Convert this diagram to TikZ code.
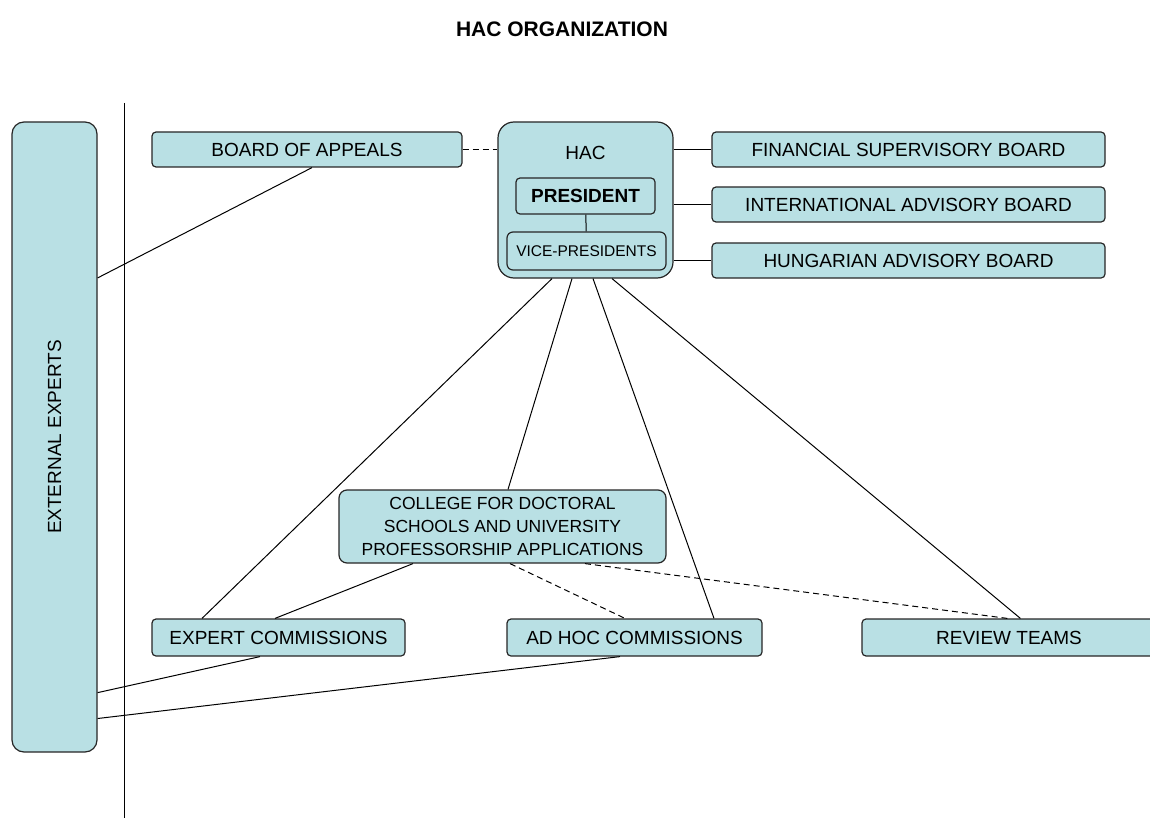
\documentclass[tikz,border=0pt]{standalone}
\usepackage{fontspec}
\setmainfont{Liberation Sans}
\usetikzlibrary{positioning,calc}
\definecolor{hacfill}{RGB}{185,224,228}

\begin{document}
\begin{tikzpicture}[x=1pt,y=-1pt,
  box/.style={draw=black!85,fill=hacfill,line width=1.2pt,rounded corners=4pt,inner sep=0pt,font=\fontsize{19}{22}\selectfont},
  link/.style={line width=1pt},
  dlink/.style={line width=1pt,dash pattern=on 6pt off 4pt}]
\useasboundingbox (0,0) rectangle (1150,818);

\node[font=\fontsize{21}{24}\bfseries\selectfont] (title) at (562,29) {HAC ORGANIZATION};

% left column
\node[box,rounded corners=12pt,minimum width=85,minimum height=630] (ext) at (54.5,437) {};
\node[rotate=90,font=\fontsize{19}{22}\selectfont] (extlabel) at (ext.center) {EXTERNAL EXPERTS};
\coordinate (ltop) at (124,103);
\coordinate (lbot) at (124,818);
\draw[link] (ltop) -- (lbot);

% HAC
\node[box,rounded corners=16pt,minimum width=175,minimum height=156] (hac) at (585.5,200) {};
\node[font=\fontsize{19}{22}\selectfont] (haclabel) at (585.5,153) {HAC};
\node[box,minimum width=139,minimum height=36,font=\fontsize{19}{22}\bfseries\selectfont] (pres) at (585.5,196) {PRESIDENT};
\node[box,rounded corners=6pt,minimum width=159,minimum height=38,font=\fontsize{15.5}{18}\selectfont] (vice) at (586.5,251) {VICE-PRESIDENTS};
\draw[link] (pres) -- (vice);

% boards
\node[box,minimum width=310,minimum height=35] (appeals) at (307,149.5) {BOARD OF APPEALS};
\node[box,minimum width=393,minimum height=35] (fin) at (908.5,149.5) {FINANCIAL SUPERVISORY BOARD};
\node[box,minimum width=393,minimum height=35] (intl) at (908.5,204.5) {INTERNATIONAL ADVISORY BOARD};
\node[box,minimum width=393,minimum height=35] (hung) at (908.5,260.5) {HUNGARIAN ADVISORY BOARD};

% commissions
\node[box,rounded corners=8pt,minimum width=327,minimum height=73,align=center,font=\fontsize{17.5}{23}\selectfont] (college) at (502.5,526.5) {COLLEGE FOR DOCTORAL\\SCHOOLS AND UNIVERSITY\\PROFESSORSHIP APPLICATIONS};
\node[box,minimum width=253,minimum height=37] (expert) at (278.5,637.5) {EXPERT COMMISSIONS};
\node[box,minimum width=255,minimum height=37] (adhoc) at (634.5,637.5) {AD HOC COMMISSIONS};
\node[box,minimum width=300,minimum height=37] (review) at (1012,637.5) {};
\node[font=\fontsize{19}{22}\selectfont] (reviewlabel) at (1009,637.5) {REVIEW TEAMS};

% connectors
\draw[dlink] (appeals.east) -- (hac.west |- appeals.east);
\draw[link] (hac.east |- fin.west) -- (fin.west);
\draw[link] (hac.east |- intl.west) -- (intl.west);
\draw[link] (hac.east |- hung.west) -- (hung.west);
\draw[link] ([xshift=5pt]appeals.south) -- ($(ext.north east)!0.248!(ext.south east)$);

\draw[link] ([xshift=-33.5pt]hac.south) -- ([xshift=-76.5pt]expert.north);
\draw[link] ([xshift=-13.5pt]hac.south) -- ([xshift=5.5pt]college.north);
\draw[link] ([xshift=7.5pt]hac.south) -- ([xshift=79.5pt]adhoc.north);
\draw[link] ([xshift=26.5pt]hac.south) -- ([xshift=159pt]review.north west);

\draw[link] ([xshift=-89.5pt]college.south) -- ([xshift=-3.5pt]expert.north);
\draw[dlink] ([xshift=7.5pt]college.south) -- ([xshift=-9.5pt]adhoc.north);
\draw[dlink] ([xshift=82.5pt]college.south) -- ([xshift=146pt]review.north west);

\draw[link] ([xshift=-18.5pt]expert.south) -- ($(ext.north east)!0.905!(ext.south east)$);
\draw[link] ([xshift=-14.5pt]adhoc.south) -- ($(ext.north east)!0.946!(ext.south east)$);
\end{tikzpicture}
\end{document}
